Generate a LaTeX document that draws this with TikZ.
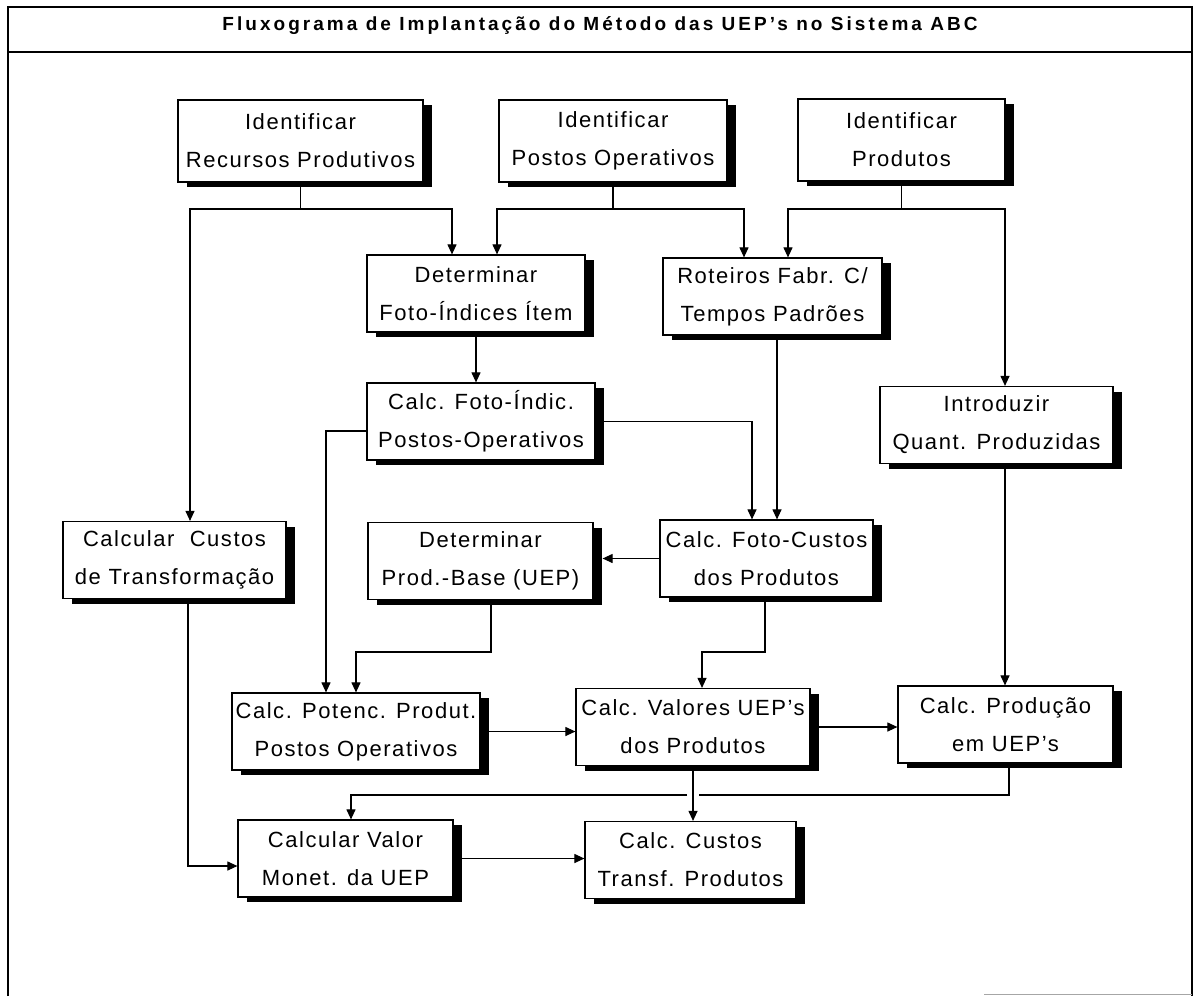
\documentclass[tikz,border=0pt]{standalone}
\usepackage{fontspec}
\setmainfont{Liberation Sans}
\usetikzlibrary{arrows.meta,shadows}
\begin{document}
\begin{tikzpicture}[x=1pt,y=-1pt,
  box/.style={draw, fill=white, line width=1.2pt, minimum height=77pt, inner sep=1pt,
    align=center, font=\fontsize{22}{38}\selectfont\addfontfeatures{LetterSpace=7},
    drop shadow={shadow xshift=9pt, shadow yshift=-5pt, fill=black, opacity=1}},
  toprow/.style={box, minimum height=82pt},
  link/.style={line width=1.1pt},
  arr/.style={link, -{Triangle[length=10pt,width=9pt]}}]

% page and frame
\fill[white] (0,0) rectangle (1196,996);
\useasboundingbox (0,0) rectangle (1196,996);
\draw[line width=1.4pt] (8,996) -- (8,7) -- (1192,7) -- (1192,996);
\draw[line width=1.4pt] (8,52) -- (1192,52);
\draw[black!35, line width=0.8pt] (984,994) -- (1192,994);

\node (title) at (600,26)
  {\fontsize{19}{21}\selectfont\bfseries\addfontfeatures{LetterSpace=16}Fluxograma de Implantação do Método das UEP’s no Sistema ABC};

% boxes
\node[toprow, minimum width=245pt] (rec) at (300.5,141) {Identificar\\Recursos Produtivos};
\node[toprow, minimum width=228pt] (pos) at (613,141) {Identificar\\Postos Operativos};
\node[toprow, minimum width=207pt] (prd) at (901.5,140) {Identificar\\Produtos};
\node[box, minimum width=218pt] (det) at (476,293.5) {Determinar\\Foto-Índices Ítem};
\node[box, minimum width=219pt] (rot) at (772.5,296.5) {Roteiros Fabr. C/\\Tempos Padrões};
\node[box, minimum width=228pt] (cfi) at (481,421.5) {Calc. Foto-Índic.\\Postos-Operativos};
\node[box, minimum width=233pt] (intro) at (996.5,425) {Introduzir\\Quant. Produzidas};
\node[box, minimum width=223pt] (ccust) at (174.5,560) {Calcular~~Custos\\de Transformação};
\node[box, minimum width=225pt] (base) at (480.5,561) {Determinar\\Prod.-Base (UEP)};
\node[box, minimum width=213pt] (cfc) at (766.5,558.5) {Calc. Foto-Custos\\dos Produtos};
\node[box, minimum width=248pt] (pot) at (356,731.5) {Calc. Potenc. Produt.\\Postos Operativos};
\node[box, minimum width=234pt] (val) at (693,727) {Calc. Valores UEP’s\\dos Produtos};
\node[box, minimum width=215pt] (prod) at (1005.5,724.5) {Calc. Produção\\em UEP’s};
\node[box, minimum width=215pt] (cvm) at (345.5,858.5) {Calcular Valor\\Monet. da UEP};
\node[box, minimum width=211pt] (cct) at (690.5,860) {Calc. Custos\\Transf. Produtos};

% junction points of the connectors
\coordinate (a1) at (190,209);
\coordinate (a2) at (452,209);
\coordinate (b1) at (497,209);
\coordinate (b2) at (744,209);
\coordinate (c1) at (788,209);
\coordinate (c2) at (1005,209);
\coordinate (d1) at (326,431);
\coordinate (e1) at (752,421.5);
\coordinate (f1) at (777,400);
\coordinate (g1) at (491,652);
\coordinate (g2) at (356,652);
\coordinate (h1) at (765,652);
\coordinate (h2) at (702,652);
\coordinate (k1) at (188,866);
\coordinate (m1) at (1009,795);
\coordinate (m2) at (351,795);
\coordinate (gapR) at (699,795);
\coordinate (gapL) at (687,795);

% first row distribution
\draw[arr] (rec.south) |- (a1) -- (a1 |- ccust.north);
\draw[arr] (rec.south |- a1) -| (a2 |- det.north);
\draw[arr] (pos.south) |- (b1) -- (b1 |- det.north);
\draw[arr] (pos.south |- b1) -| (b2 |- rot.north);
\draw[arr] (prd.south) |- (c1) -- (c1 |- rot.north);
\draw[arr] (prd.south |- c1) -| (c2 |- intro.north);

% middle part
\draw[arr] (det.south) -- (det.south |- cfi.north);
\draw[arr] (cfi.west |- d1) -- (d1) -- (d1 |- pot.north);
\draw[arr] (cfi.east) -- (e1) -- (e1 |- cfc.north);
\draw[arr] (f1 |- rot.south) -- (f1 |- cfc.north);
\draw[arr] (c2 |- intro.south) -- (c2 |- prod.north);
\draw[arr] (cfc.west) -- ([xshift=9pt]cfc.west -| base.east);
\draw[arr] (g1 |- base.south) -- (g1) -- (g2) -- (g2 |- pot.north);
\draw[arr] (h1 |- cfc.south) -- (h1) -- (h2) -- (h2 |- val.north);
\draw[arr] (pot.east) -- (pot.east -| val.west);
\draw[arr] (val.east) -- (val.east -| prod.west);

% lower part
\draw[arr] (k1 |- ccust.south) -- (k1) -- (k1 -| cvm.west);
\draw[link] (m1 |- prod.south) -- (m1) -- (gapR);
\draw[arr] (gapL) -- (m2) -- (m2 |- cvm.north);
\draw[arr] (val.south) -- (val.south |- cct.north);
\draw[arr] (cvm.east) -- (cvm.east -| cct.west);
\end{tikzpicture}
\end{document}
